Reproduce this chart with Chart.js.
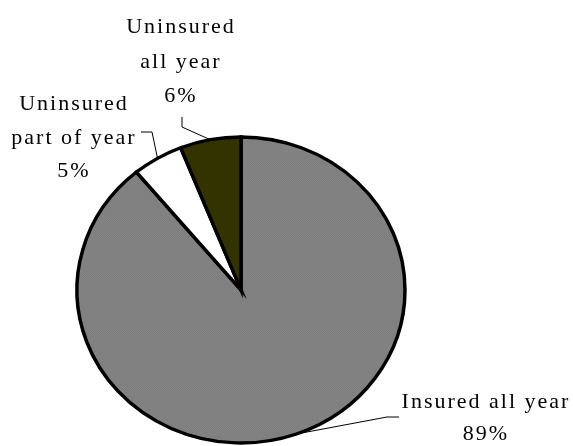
<!DOCTYPE html>
<html lang="en">
<head>
    <meta charset="UTF-8">
    <title>Insurance coverage pie</title>
    <style>
        /* page is just the canvas, white background */
        body {
            margin: 0;
            background-color: #ffffff;
        }
        #wrap {
            width: 573px;
            height: 446px;
        }
    </style>
</head>
<body>
    <div id="wrap"><canvas id="pieChart" width="573" height="446"></canvas></div>

    <script src="https://cdn.jsdelivr.net/npm/chart.js"></script>
    <script>
        // Chart data
        const categories = ['Insured all year', 'Uninsured part of year', 'Uninsured all year'];
        const shares = [89, 5, 6];
        const labelNames = [['Insured all year'], ['Uninsured', 'part of year'], ['Uninsured', 'all year']];

        // Label placement (pixels): text centre, first baseline, line height, leader elbow points
        const labelSpots = [
            { x: 486, y: 408, lh: 32, leader: [[399, 417], [387, 417]] },
            { x: 74, y: 110, lh: 33.5, leader: [[141, 132], [152, 132]] },
            { x: 181, y: 33, lh: 34.5, leader: [[182, 117], [182, 127]] }
        ];

        const SQUASH = 153 / 164;  // the pie is a little flatter than a circle

        // Fine grey texture like the original fill
        function greyPattern() {
            const c = document.createElement('canvas');
            c.width = 2;
            c.height = 2;
            const g = c.getContext('2d');
            g.fillStyle = '#7c7c7c';
            g.fillRect(0, 0, 2, 2);
            g.fillStyle = '#868686';
            g.fillRect(0, 0, 1, 1);
            g.fillRect(1, 1, 1, 1);
            return g.createPattern(c, 'repeat');
        }

        const pieDecor = {
            id: 'pieDecor',
            beforeDatasetsDraw(chart) {
                const arc = chart.getDatasetMeta(0).data[0];
                const ctx = chart.ctx;
                ctx.save();
                ctx.translate(arc.x, arc.y);
                ctx.scale(1, SQUASH);
                ctx.translate(-arc.x, -arc.y);
            },
            afterDatasetsDraw(chart) {
                const ctx = chart.ctx;
                ctx.restore();

                const arcs = chart.getDatasetMeta(0).data;
                ctx.save();
                ctx.fillStyle = '#000';
                ctx.strokeStyle = '#000';
                ctx.lineWidth = 1;
                ctx.font = '22px "Liberation Serif", "Times New Roman", serif';
                ctx.letterSpacing = '2px';
                ctx.textAlign = 'center';
                ctx.textBaseline = 'alphabetic';

                arcs.forEach((a, i) => {
                    const p = a.getProps(['x', 'y', 'startAngle', 'endAngle', 'outerRadius'], true);
                    const mid = (p.startAngle + p.endAngle) / 2;
                    const ax = p.x + Math.cos(mid) * p.outerRadius;
                    const ay = p.y + Math.sin(mid) * p.outerRadius * SQUASH;
                    const spot = labelSpots[i];

                    // leader line
                    ctx.beginPath();
                    ctx.moveTo(spot.leader[0][0], spot.leader[0][1]);
                    for (let k = 1; k < spot.leader.length; k++) {
                        ctx.lineTo(spot.leader[k][0], spot.leader[k][1]);
                    }
                    ctx.lineTo(ax, ay);
                    ctx.stroke();

                    // label text
                    const lines = labelNames[i].concat([shares[i] + '%']);
                    lines.forEach((t, j) => {
                        ctx.fillText(t, spot.x, spot.y + j * spot.lh);
                    });
                });
                ctx.restore();
            }
        };

        new Chart(document.getElementById('pieChart'), {
            type: 'pie',
            data: {
                labels: categories,
                datasets: [{
                    data: shares,
                    backgroundColor: [greyPattern(), '#ffffff', '#333300'],
                    borderColor: '#000000',
                    borderWidth: 3.5,
                    borderJoinStyle: 'miter'
                }]
            },
            options: {
                responsive: false,
                devicePixelRatio: 1,
                animation: false,
                radius: 164,
                layout: { padding: { left: 0, right: 91, top: 134, bottom: 0 } },
                plugins: {
                    legend: { display: false },
                    tooltip: { enabled: false }
                }
            },
            plugins: [pieDecor]
        });
    </script>
</body>
</html>
